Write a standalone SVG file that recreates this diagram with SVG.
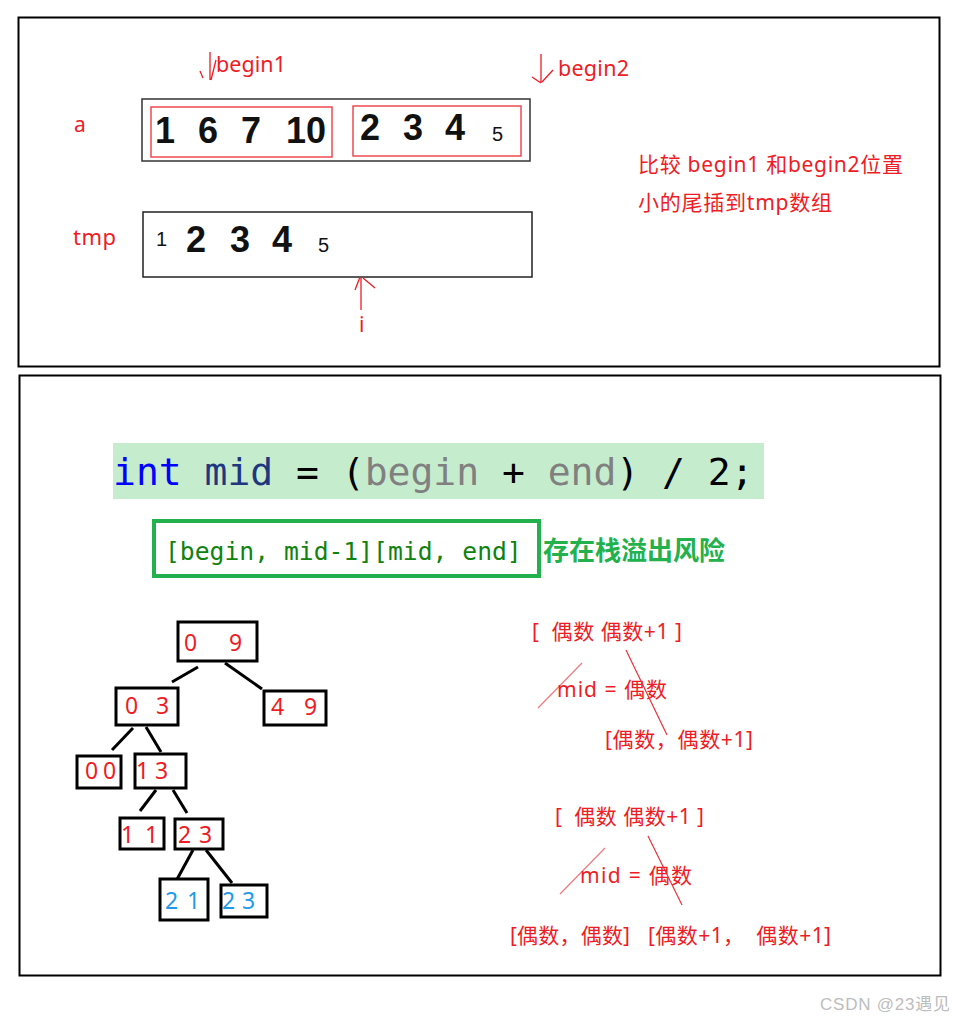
<svg xmlns="http://www.w3.org/2000/svg" width="954" height="1021" viewBox="0 0 954 1021">
<defs>
<style>
.frame{fill:none;stroke:#000;stroke-width:2}
.red{fill:#ee1c25;font-family:"Noto Sans","Noto Sans CJK SC",sans-serif}
.cn{fill:#ee1c25;font-family:"Noto Sans","Noto Sans CJK SC",sans-serif}
.rl{stroke:#ee1c25;stroke-width:1.3;fill:none}
.big{font-family:"Liberation Sans",Arial,sans-serif;font-weight:bold;font-size:36px;fill:#111}
.sm{font-family:"Liberation Sans",Arial,sans-serif;font-size:20px;fill:#111}
.tb{fill:#fff;stroke:#000;stroke-width:3}
.tn{fill:#ee1c25;font-family:"Noto Sans","Noto Sans CJK SC",sans-serif;font-size:23px}
.tbl{fill:#1e9be8;font-family:"Noto Sans","Noto Sans CJK SC",sans-serif;font-size:23px}
.edge{stroke:#000;stroke-width:3}
.mono{font-family:"DejaVu Sans Mono","Liberation Mono",monospace}
</style>
</defs>
<rect width="954" height="1021" fill="#fff"/>
<rect class="frame" x="18.5" y="17.5" width="921" height="349"/>
<rect class="frame" x="19.5" y="375.5" width="921" height="600"/>

<!-- top part -->
<g id="label-a"><text class="red" x="74" y="132" font-size="21">a</text></g>
<g id="label-tmp"><text class="red" x="73" y="245" font-size="22" textLength="43">tmp</text></g>

<g id="array-a">
<rect x="142" y="99" width="388" height="62" fill="#fff" stroke="#333" stroke-width="1.5"/>
<rect x="151" y="107" width="181" height="50" fill="none" stroke="#f04a50" stroke-width="1.5"/>
<rect x="353" y="106" width="168" height="50" fill="none" stroke="#f04a50" stroke-width="1.5"/>
<text class="big" x="155" y="143">1</text>
<text class="big" x="198" y="143">6</text>
<text class="big" x="241" y="143">7</text>
<text class="big" x="286" y="143">10</text>
<text class="big" x="360" y="140">2</text>
<text class="big" x="403" y="140">3</text>
<text class="big" x="445" y="140">4</text>
<text class="sm" x="492" y="141">5</text>
</g>

<g id="array-tmp">
<rect x="143" y="212" width="389" height="65" fill="#fff" stroke="#222" stroke-width="1.5"/>
<text class="sm" x="156" y="246" font-size="21">1</text>
<text class="big" x="186" y="252" font-size="38">2</text>
<text class="big" x="230" y="252" font-size="38">3</text>
<text class="big" x="272" y="252" font-size="38">4</text>
<text class="sm" x="318" y="252" font-size="22">5</text>
</g>

<g id="begin1">
<path class="rl" d="M210,52 L210,80 M216,60 L211,80 M200,71 L203,78"/>
<text class="red" x="216" y="72" font-size="21.5" textLength="70">begin1</text>
</g>
<g id="begin2">
<path class="rl" d="M541,54 L541,83 M532,77 L541,83 M553,70 L542,82"/>
<text class="red" x="558" y="76" font-size="21.5" textLength="71">begin2</text>
</g>
<g id="i-pointer">
<path class="rl" d="M361,278 L361,310 M355,290 L360,277 M363,278 L375,288"/>
<text class="red" x="359" y="332" font-size="21">i</text>
</g>

<g id="note-top">
<text class="cn" x="638" y="172" font-size="21" textLength="265">比较 begin1 和begin2位置</text>
<text class="cn" x="638" y="210" font-size="21" textLength="194">小的尾插到tmp数组</text>
</g>

<!-- bottom part -->
<g id="code">
<rect x="113" y="443" width="651" height="56" fill="#c6ecce"/>
<text class="mono" x="113" y="485" font-size="38" xml:space="preserve"><tspan fill="#0000ff">int</tspan><tspan fill="#1f377f"> mid</tspan><tspan fill="#000"> = (</tspan><tspan fill="#808080">begin</tspan><tspan fill="#000"> + </tspan><tspan fill="#808080">end</tspan><tspan fill="#000">) / 2;</tspan></text>
</g>

<g id="range-box">
<rect x="154" y="521" width="385" height="55" fill="#fff" stroke="#22b14c" stroke-width="4"/>
<text class="mono" x="165" y="560" font-size="24.7" fill="#0f820f">[begin, mid-1][mid, end]</text>
</g>
<g id="warning">
<text x="543" y="560" font-family="Noto Sans CJK SC,sans-serif" font-weight="bold" font-size="26" fill="#22b14c">存在栈溢出风险</text>
</g>

<g id="connectors">
<line class="edge" x1="198" y1="667" x2="172" y2="682"/>
<line class="edge" x1="225" y1="663" x2="262" y2="689"/>
<line class="edge" x1="133" y1="728" x2="112" y2="750"/>
<line class="edge" x1="146" y1="727" x2="161" y2="752"/>
<line class="edge" x1="156" y1="790" x2="140" y2="811"/>
<line class="edge" x1="173" y1="790" x2="187" y2="813"/>
<line class="edge" x1="193" y1="850" x2="175" y2="883"/>
<line class="edge" x1="206" y1="850" x2="232" y2="883"/>
</g>

<g id="n09"><rect class="tb" x="178" y="622" width="79" height="39"/><text class="tn" x="184" y="651">0</text><text class="tn" x="229" y="651">9</text></g>
<g id="n03"><rect class="tb" x="116" y="688" width="62" height="37"/><text class="tn" x="125" y="714">0</text><text class="tn" x="156" y="714">3</text></g>
<g id="n49"><rect class="tb" x="264" y="691" width="62" height="34"/><text class="tn" x="271" y="715">4</text><text class="tn" x="304" y="715">9</text></g>
<g id="n00"><rect class="tb" x="77" y="756" width="44" height="32"/><text class="tn" x="85" y="779">0</text><text class="tn" x="103" y="779">0</text></g>
<g id="n13"><rect class="tb" x="135" y="754" width="51" height="34"/><text class="tn" x="136" y="779">1</text><text class="tn" x="155" y="779">3</text></g>
<g id="n11"><rect class="tb" x="120" y="818" width="44" height="31"/><text class="tn" x="121" y="843">1</text><text class="tn" x="145" y="843">1</text></g>
<g id="n23"><rect class="tb" x="175" y="819" width="48" height="30"/><text class="tn" x="178" y="843">2</text><text class="tn" x="199" y="843">3</text></g>
<g id="n21b"><rect class="tb" x="160" y="879" width="48" height="41"/><text class="tbl" x="165" y="909">2</text><text class="tbl" x="187" y="909">1</text></g>
<g id="n23b"><rect class="tb" x="221" y="885" width="46" height="32"/><text class="tbl" x="222" y="909">2</text><text class="tbl" x="242" y="909">3</text></g>

<g id="note1">
<text class="cn" x="532" y="639" font-size="21" xml:space="preserve" textLength="150">[  偶数 偶数+1 ]</text>
<line x1="582" y1="663" x2="538" y2="708" stroke="#f07a80" stroke-width="1.2"/>
<text class="cn" x="557" y="697" font-size="21" textLength="110">mid = 偶数</text>
<line x1="626" y1="650" x2="667" y2="735" stroke="#e8303a" stroke-width="1.2"/>
<text class="cn" x="605" y="747" font-size="21" textLength="148">[偶数，偶数+1]</text>
</g>
<g id="note2">
<text class="cn" x="555" y="824" font-size="21" xml:space="preserve" textLength="149">[  偶数 偶数+1 ]</text>
<line x1="605" y1="848" x2="560" y2="894" stroke="#f07a80" stroke-width="1.2"/>
<text class="cn" x="580" y="883" font-size="21" textLength="112">mid = 偶数</text>
<line x1="648" y1="836" x2="682" y2="905" stroke="#e8303a" stroke-width="1.2"/>
<text class="cn" x="510" y="943" font-size="21" textLength="120">[偶数，偶数]</text>
<text class="cn" x="648" y="943" font-size="21" xml:space="preserve" textLength="183">[偶数+1，  偶数+1]</text>
</g>

<text x="820" y="1010" font-family="Liberation Sans,Arial,Noto Sans CJK SC,sans-serif" font-size="17" fill="#bdbdbd" textLength="130">CSDN @23遇见</text>
</svg>
